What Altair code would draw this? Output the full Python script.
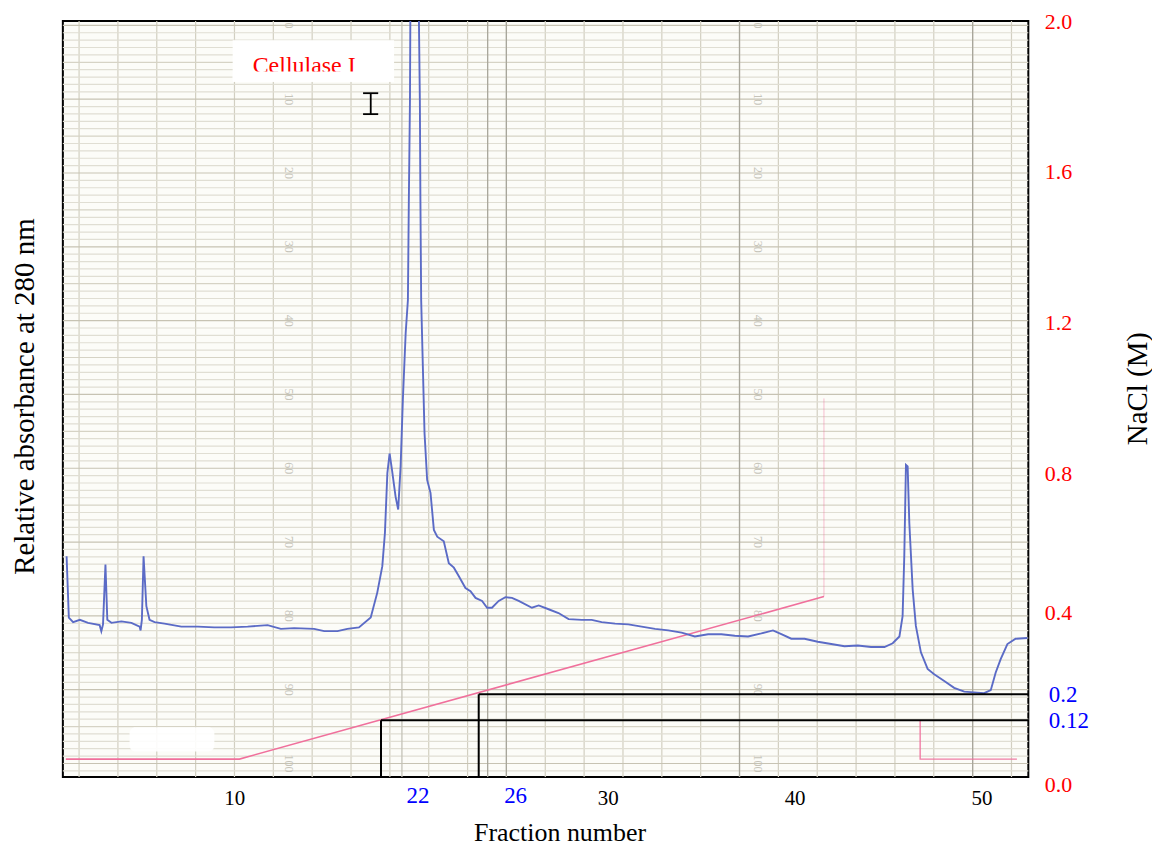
import altair as alt
import pandas as pd

# ---------------- data ----------------
# Blue trace: relative absorbance at 280 nm vs fraction number
trace_fraction = [
    1.03, 1.15, 1.38, 1.74, 2.18, 2.80, 2.89, 2.98, 3.11, 3.21, 3.43, 3.96, 4.50, 4.94, 4.99,
    5.06, 5.15, 5.30, 5.47, 5.74, 6.27, 7.17, 8.05, 8.94, 9.83, 10.72, 11.79, 12.50, 13.21,
    14.28, 14.82, 15.53, 16.06, 16.68, 17.31, 17.66, 17.93, 18.07, 18.20, 18.32, 18.45, 18.64,
    18.78, 18.91, 19.03, 19.18, 19.30, 19.35, 19.41, 19.43, 19.65, 19.89, 19.94, 19.97, 20.01,
    20.10, 20.19, 20.33, 20.51, 20.69, 20.87, 21.22, 21.49, 21.76, 22.02, 22.38, 22.65, 22.92,
    23.27, 23.54, 23.80, 24.16, 24.52, 24.87, 25.23, 25.94, 26.30, 26.83, 27.36, 27.90, 28.61,
    29.14, 29.67, 30.39, 31.10, 31.81, 32.53, 33.24, 33.95, 34.66, 35.37, 36.08, 36.80, 37.51,
    38.22, 38.84, 39.29, 39.82, 40.53, 41.24, 41.96, 42.67, 43.38, 44.09, 44.81, 45.25, 45.61,
    45.78, 45.87, 45.96, 46.05, 46.14, 46.32, 46.49, 46.76, 47.12, 47.47, 48.01, 48.54, 49.08,
    49.61, 50.14, 50.50, 50.76, 51.03, 51.39, 51.83, 52.46,
]
trace_absorbance = [
    0.292, 0.211, 0.205, 0.208, 0.204, 0.201, 0.193, 0.202, 0.281, 0.208, 0.204, 0.206, 0.204,
    0.199, 0.194, 0.208, 0.292, 0.226, 0.208, 0.205, 0.203, 0.199, 0.199, 0.198, 0.198, 0.199,
    0.201, 0.196, 0.197, 0.196, 0.193, 0.193, 0.196, 0.198, 0.211, 0.244, 0.279, 0.323, 0.402,
    0.428, 0.406, 0.371, 0.354, 0.411, 0.499, 0.587, 0.631, 0.763, 0.895, 1.000, 1.150, 1.000,
    0.895, 0.763, 0.631, 0.543, 0.455, 0.393, 0.376, 0.327, 0.318, 0.312, 0.283, 0.277, 0.266,
    0.250, 0.246, 0.237, 0.233, 0.224, 0.224, 0.233, 0.238, 0.237, 0.233, 0.224, 0.227, 0.222,
    0.217, 0.209, 0.208, 0.208, 0.205, 0.203, 0.202, 0.199, 0.196, 0.194, 0.191, 0.186, 0.189,
    0.189, 0.187, 0.186, 0.190, 0.194, 0.189, 0.183, 0.183, 0.179, 0.176, 0.173, 0.174, 0.172,
    0.172, 0.177, 0.186, 0.213, 0.292, 0.413, 0.411, 0.336, 0.248, 0.200, 0.165, 0.143, 0.136,
    0.127, 0.118, 0.113, 0.112, 0.111, 0.115, 0.138, 0.156, 0.176, 0.183, 0.184,
]

# Pink NaCl gradient (M)
gradient_fraction = [0.99, 10.28, 41.57]
gradient_nacl = [0.038, 0.038, 0.446]
pen_return_fraction = [41.57, 41.57]
pen_return_nacl = [0.446, 1.0]
reset_fraction = [46.72, 46.72, 51.90]
reset_nacl = [0.119, 0.038, 0.038]

# Black marker lines: fraction where the gradient reaches a NaCl level
marker_labels = ["22", "26"]
marker_fraction = [17.86, 23.09]
marker_nacl = [0.12, 0.2]

# Axis ticks
x_tick_values = [10, 30, 40, 50]
nacl_tick_values = [0.0, 0.4, 0.8, 1.2, 1.6, 2.0]
nacl_marked_values = [0.12, 0.2]

# Annotations
peak_label = ["Cellulase I"]
peak_label_fraction = [10.99]
peak_label_absorbance = [0.9314]
label_box_fraction = [9.92, 18.56]
label_box_absorbance = [0.9199, 0.9745]
label_cut_absorbance = [0.9199, 0.9334]
ibeam_fraction = [16.90, 17.31, 17.71]
ibeam_absorbance = [0.8769, 0.9046]
smudge_fraction = [4.40, 8.94]
smudge_absorbance = [0.034, 0.066]

# ---------------- recorder paper (decoration) ----------------
paper_x0, paper_dx = 1.698, 2.0796
paper_top, paper_step = 0.9943, 0.009763
paper_vlines = [paper_x0 + paper_dx * k for k in range(25)]
paper_hlines = [paper_top - paper_step * u for u in range(102)]
paper_hkind = ["heavy" if u % 10 == 0 else ("mid" if u % 5 == 0 else "fine") for u in range(102)]
paper_dark_lines = [18.98, 23.57, 24.57, 37.05, 49.53]
paper_dark_kind = ["light", "dark", "dark", "dark", "dark"]
paper_numbers = [str(10 * k) for k in range(11)]
paper_number_absorbance = [paper_top - paper_step * 10 * k for k in range(11)]
paper_number_columns = [12.95, 38.04]

# ---------------- chart ----------------
W, H = 968, 758
FONT = "Liberation Serif"
BLUE_TRACE = "#5b6bc6"
PINK = "#f0709c"
BLUE_TEST = "datum.value == 0.12 || datum.value == 0.2"

xs = alt.Scale(domain=[0.83, 52.51], nice=False, zero=False)
ys_abs = alt.Scale(domain=[0, 1], nice=False, zero=False)

XAXIS = alt.Axis(
    values=x_tick_values, format="d", ticks=False, domain=False, grid=False,
    labelFontSize=21, labelColor="black", labelPadding=10, labelFont=FONT,
    title="Fraction number", titleFontSize=26, titleX=498, titleY=64,
    titleAlign="center", titleBaseline="alphabetic", titleFont=FONT,
)


def X(field="f:Q"):
    return alt.X(field, scale=xs, axis=XAXIS)


def ys_nacl():
    return alt.Scale(domain=[0, 0.12, 0.2, 0.4, 0.8, 2.0],
                     range=[758, 701, 675, 593, 454, 0], nice=False, zero=False)


vgrid = alt.Chart(pd.DataFrame({"f": paper_vlines})).mark_rule(
    color="#d2cfc1", strokeWidth=1.2
).encode(x=X())

hgrid = alt.Chart(pd.DataFrame({"a": paper_hlines, "kind": paper_hkind})).mark_rule(
    strokeWidth=1.2
).encode(
    y=alt.Y("a:Q", scale=ys_abs, axis=None),
    color=alt.Color("kind:N", legend=None,
                    scale=alt.Scale(domain=["fine", "mid", "heavy"],
                                    range=["#e0ded3", "#d6d3c5", "#c7c3b3"])),
)

dark_lines = alt.Chart(pd.DataFrame({"f": paper_dark_lines, "kind": paper_dark_kind})).mark_rule(
    strokeWidth=1.3
).encode(
    x=X(),
    color=alt.Color("kind:N", legend=None,
                    scale=alt.Scale(domain=["light", "dark"], range=["#c4c2b8", "#a8a69b"])),
)

num_rows = []
for col in paper_number_columns:
    for t, a in zip(paper_numbers, paper_number_absorbance):
        num_rows.append({"f": col, "a": a, "t": t})
paper_text = alt.Chart(pd.DataFrame(num_rows)).mark_text(
    angle=90, font=FONT, fontSize=12, color="#c6c4ba", clip=True
).encode(x=X(), y=alt.Y("a:Q", scale=ys_abs, axis=None), text="t:N")

smudge = alt.Chart(pd.DataFrame({"f": [smudge_fraction[0]], "f2": [smudge_fraction[1]],
                                 "a": [smudge_absorbance[0]], "a2": [smudge_absorbance[1]]})).mark_rect(
    color="white", opacity=0.9, cornerRadius=6
).encode(x=X(), x2="f2", y=alt.Y("a:Q", scale=ys_abs, axis=None), y2="a2")

right_axis = alt.Axis(
    orient="right", values=nacl_tick_values + nacl_marked_values, title="NaCl (M)",
    ticks=False, domain=False, grid=False, labelOverlap=False, labelBound=False,
    labelExpr="datum.value == 0.12 ? '0.12' : format(datum.value, '.1f')",
    labelColor={"condition": {"test": BLUE_TEST, "value": "#0000ff"}, "value": "#ff0000"},
    labelFontSize={"condition": {"test": BLUE_TEST, "value": 23}, "value": 22},
    labelPadding={"condition": {"test": BLUE_TEST, "value": 20}, "value": 16},
    labelBaseline="middle", labelAlign="left",
    labelOffset={"condition": {"test": "datum.value == 0", "value": 7}, "value": 0},
    titleFontSize=29, titleAngle=-90, titleX=109, titleY=368, titleAlign="center",
    titleBaseline="middle",
)

gradient = alt.Chart(pd.DataFrame({"f": gradient_fraction, "n": gradient_nacl,
                                   "i": list(range(len(gradient_fraction)))})).mark_line(
    color=PINK, strokeWidth=1.6
).encode(x=X(), y=alt.Y("n:Q", scale=ys_nacl(), axis=right_axis), order="i:Q")

pen_return = alt.Chart(pd.DataFrame({"f": pen_return_fraction, "n": pen_return_nacl,
                                     "i": [0, 1]})).mark_line(
    color=PINK, strokeWidth=1, opacity=0.45
).encode(x=X(), y=alt.Y("n:Q", scale=ys_nacl(), axis=None), order="i:Q")

reset = alt.Chart(pd.DataFrame({"f": reset_fraction, "n": reset_nacl, "i": [0, 1, 2]})).mark_line(
    color=PINK, strokeWidth=1.4, opacity=0.9
).encode(x=X(), y=alt.Y("n:Q", scale=ys_nacl(), axis=None), order="i:Q")

trace = alt.Chart(pd.DataFrame({"f": trace_fraction, "a": trace_absorbance,
                                "i": list(range(len(trace_fraction)))})).mark_line(
    color=BLUE_TRACE, strokeWidth=1.9, clip=True
).encode(
    x=X(),
    y=alt.Y("a:Q", scale=ys_abs, axis=alt.Axis(
        orient="left", labels=False, ticks=False, domain=False, grid=False,
        title="Relative absorbance at 280 nm", titleFontSize=29, titleAngle=-90,
        titleX=-38, titleY=376, titleAlign="center", titleBaseline="middle")),
    order="i:Q",
)

marker_df = pd.DataFrame({"f": marker_fraction, "n": marker_nacl, "base": [0.0, 0.0],
                          "right": [52.51, 52.51], "t": marker_labels})
marker_v = alt.Chart(marker_df).mark_rule(color="black", strokeWidth=2).encode(
    x=X(), y=alt.Y("base:Q", scale=ys_nacl(), axis=None), y2="n")
marker_h = alt.Chart(marker_df).mark_rule(color="black", strokeWidth=2).encode(
    x=X(), x2="right", y=alt.Y("n:Q", scale=ys_nacl(), axis=None))
marker_text = alt.Chart(marker_df).mark_text(
    color="#0000ff", font=FONT, fontSize=23, dx=37, baseline="middle"
).encode(x=X(), y=alt.value(H + 19), text="t:N")

box_df = pd.DataFrame({"f": [label_box_fraction[0]], "f2": [label_box_fraction[1]],
                       "a": [label_box_absorbance[0]], "a2": [label_box_absorbance[1]],
                       "c": [label_cut_absorbance[1]]})
label_box = alt.Chart(box_df).mark_rect(color="white").encode(
    x=X(), x2="f2", y=alt.Y("a:Q", scale=ys_abs, axis=None), y2="a2")
label_text = alt.Chart(pd.DataFrame({"f": peak_label_fraction, "a": peak_label_absorbance,
                                     "t": peak_label})).mark_text(
    color="#ff0000", font=FONT, fontSize=24, align="left", baseline="alphabetic"
).encode(x=X(), y=alt.Y("a:Q", scale=ys_abs, axis=None), text="t:N")
label_cut = alt.Chart(box_df).mark_rect(color="white").encode(
    x=X(), x2="f2", y=alt.Y("a:Q", scale=ys_abs, axis=None), y2="c")

ibeam_df = pd.DataFrame({"f": [ibeam_fraction[0]] * 2, "f2": [ibeam_fraction[2]] * 2,
                         "a": ibeam_absorbance})
ibeam_bars = alt.Chart(ibeam_df).mark_rule(color="black", strokeWidth=1.8).encode(
    x=X(), x2="f2", y=alt.Y("a:Q", scale=ys_abs, axis=None))
ibeam_stem = alt.Chart(pd.DataFrame({"f": [ibeam_fraction[1]], "a": [ibeam_absorbance[0]],
                                     "a2": [ibeam_absorbance[1]]})).mark_rule(
    color="black", strokeWidth=1.8
).encode(x=X(), y=alt.Y("a:Q", scale=ys_abs, axis=None), y2="a2")

chart = alt.layer(
    vgrid, hgrid, dark_lines, paper_text, smudge,
    gradient, pen_return, reset, trace,
    marker_v, marker_h, marker_text,
    label_box, label_text, label_cut, ibeam_bars, ibeam_stem,
).resolve_scale(
    y="independent", color="independent"
).properties(
    width=W, height=H,
    padding={"left": 55, "top": 12, "right": 124, "bottom": 72},
    autosize=alt.AutoSizeParams(type="none"),
    background="white",
).configure_view(
    stroke="black", strokeWidth=2, fill="#fcfcf8"
).configure_axis(
    labelFont=FONT, titleFont=FONT, titleFontWeight="normal", titleColor="black"
)

chart.save("out.html", embed_options={"renderer": "svg", "actions": False})
